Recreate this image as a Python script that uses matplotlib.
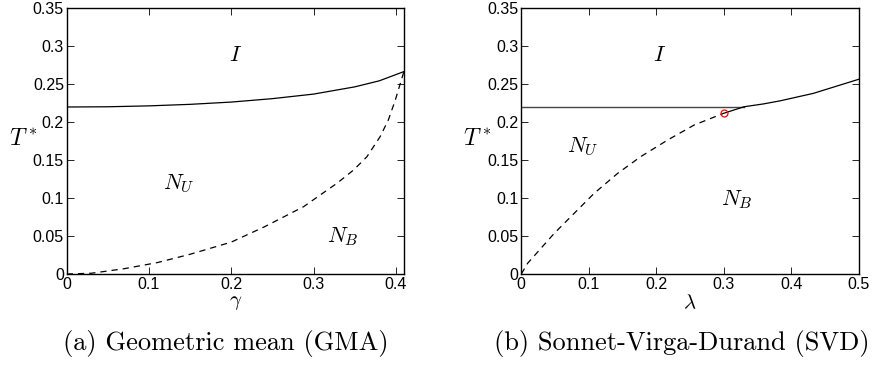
import matplotlib
matplotlib.use('Agg')
import matplotlib.pyplot as plt

plt.rcParams['font.family'] = ['Liberation Sans', 'DejaVu Sans']
plt.rcParams['mathtext.fontset'] = 'cm'

# (a) GMA
gma_solid_x = [0, 0.05, 0.1, 0.15, 0.2, 0.25, 0.3, 0.35, 0.38, 0.41]
gma_solid_y = [0.22, 0.2203, 0.2215, 0.2235, 0.2265, 0.231, 0.237, 0.2465, 0.2545, 0.2667]
gma_dash_x = [0, 0.03, 0.07, 0.11, 0.15, 0.2, 0.24, 0.288, 0.308, 0.3285, 0.3487,
              0.365, 0.381, 0.391, 0.3994, 0.4055, 0.41]
gma_dash_y = [0, 0.001, 0.007, 0.015, 0.026, 0.042, 0.062, 0.0887, 0.104, 0.1195, 0.137,
              0.1546, 0.181, 0.203, 0.229, 0.251, 0.267]

# (b) SVD
svd_flat_x = [0, 0.33]
svd_flat_y = [0.22, 0.22]
svd_dash_x = [0, 0.0094, 0.0489, 0.0785, 0.108, 0.143, 0.177, 0.2169, 0.2563, 0.3]
svd_dash_y = [0, 0.0141, 0.0536, 0.080, 0.1063, 0.1327, 0.1546, 0.1765, 0.1963, 0.2117]
svd_solid_x = [0.3, 0.33, 0.3585, 0.383, 0.433, 0.5]
svd_solid_y = [0.2117, 0.2203, 0.224, 0.228, 0.238, 0.2565]
svd_point = (0.3, 0.2117)

yticks = [0, 0.05, 0.1, 0.15, 0.2, 0.25, 0.3, 0.35]
ylabels = ['0', '0.05', '0.1', '0.15', '0.2', '0.25', '0.3', '0.35']

fig = plt.figure(figsize=(8.72, 3.73), dpi=100)
ax1 = fig.add_axes([0.0765, 0.2654, 0.3868, 0.7123])
ax2 = fig.add_axes([0.5978, 0.2654, 0.3869, 0.7123])

ax1.plot(gma_solid_x, gma_solid_y, color='black', lw=0.9)
ax1.plot(gma_dash_x, gma_dash_y, color='black', lw=0.9, ls=(0, (5, 4)))
ax1.set_xlim(0, 0.41)
ax1.set_xticks([0, 0.1, 0.2, 0.3, 0.4])
ax1.set_xticklabels(['0', '0.1', '0.2', '0.3', '0.4'])
ax1.set_xlabel(r'$\gamma$', fontsize=15, labelpad=1)
ax1.text(0.205, 0.288, r'$I$', fontsize=16, ha='center', va='center')
ax1.text(0.136, 0.119, r'$N_U$', fontsize=16, ha='center', va='center')
ax1.text(0.336, 0.049, r'$N_B$', fontsize=16, ha='center', va='center')

ax2.plot(svd_flat_x, svd_flat_y, color='#444444', lw=1.0)
ax2.plot(svd_dash_x, svd_dash_y, color='black', lw=0.9, ls=(0, (5, 4)))
ax2.plot(svd_solid_x, svd_solid_y, color='black', lw=0.9)
ax2.plot([svd_point[0]], [svd_point[1]], 'o', mfc='none', mec='red', ms=5, mew=0.9)
ax2.set_xlim(0, 0.5)
ax2.set_xticks([0, 0.1, 0.2, 0.3, 0.4, 0.5])
ax2.set_xticklabels(['0', '0.1', '0.2', '0.3', '0.4', '0.5'])
ax2.set_xlabel(r'$\lambda$', fontsize=15, labelpad=1)
ax2.text(0.2045, 0.288, r'$I$', fontsize=16, ha='center', va='center')
ax2.text(0.091, 0.168, r'$N_U$', fontsize=16, ha='center', va='center')
ax2.text(0.32, 0.0975, r'$N_B$', fontsize=16, ha='center', va='center')

for ax in (ax1, ax2):
    ax.set_ylim(0, 0.35)
    ax.set_yticks(yticks)
    ax.set_yticklabels(ylabels)
    ax.set_ylabel(r'$T^*$', fontsize=17, rotation=0, va='center', ha='center')
    ax.yaxis.set_label_coords(-0.13, 0.51)
    ax.tick_params(direction='in', top=True, right=True, length=5, width=0.6,
                   labelsize=11.5, pad=2)
    for s in ax.spines.values():
        s.set_linewidth(1.0)

fig.text(0.2586, 0.078, '(a) Geometric mean (GMA)', fontsize=19,
         family='cmr10', ha='center', va='center')
fig.text(0.7815, 0.078, '(b) Sonnet-Virga-Durand (SVD)', fontsize=19,
         family='cmr10', ha='center', va='center')

fig.savefig('out.png', dpi=100)
